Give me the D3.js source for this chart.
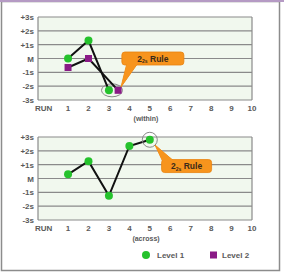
<!DOCTYPE html>
<html>
<head>
<meta charset="utf-8">
<script src="https://cdn.jsdelivr.net/npm/d3@7"></script>
<style>
  body { margin: 0; background: #fff; }
  text { font-family: "Liberation Sans", Arial, sans-serif; font-weight: bold; fill: #5a5a5a; }
</style>
</head>
<body>
<svg width="284" height="274"></svg>
<script>
// values (sd units)
var sdTicks = [3, 2, 1, 0, -1, -2, -3];
var sdLabels = ['+3s', '+2s', '+1s', 'M', '-1s', '-2s', '-3s'];
var runTicks = [0, 1, 2, 3, 4, 5, 6, 7, 8, 9, 10];
var runLabels = ['RUN', '1', '2', '3', '4', '5', '6', '7', '8', '9', '10'];

var withinLevel1 = [{run: 1, sd: 0}, {run: 2, sd: 1.3}, {run: 3, sd: -2.3}];
var withinLevel2 = [{run: 1, sd: -0.65}, {run: 2, sd: 0}, {run: 3.45, sd: -2.3}];
var acrossLevel1 = [{run: 1, sd: 0.3}, {run: 2, sd: 1.25}, {run: 3, sd: -1.25}, {run: 4, sd: 2.35}, {run: 5, sd: 2.8}];

var titles = ['(within)', '(across)'];
var legendNames = ['Level 1', 'Level 2'];

var green = '#25c22c';
var purple = '#8a1a86';
var orange = '#f7941d';

var svg = d3.select('svg');

// outer frame
svg.append('rect')
    .attr('x', 1.5).attr('y', 1.5)
    .attr('width', 278).attr('height', 269)
    .attr('fill', 'none')
    .attr('stroke', '#8c8c8c')
    .attr('stroke-width', 1.5);
svg.append('line')
    .attr('x1', 0).attr('x2', 284)
    .attr('y1', 1).attr('y2', 1)
    .attr('stroke', '#b59ac4')
    .attr('stroke-width', 2);

var xScale = d3.scaleLinear().domain([-0.47, 10]).range([38, 252]);

function makePanel(top, title) {
    var yScale = d3.scaleLinear().domain([-3, 3]).range([top + 83, top]);
    var g = svg.append('g');

    g.append('rect')
        .attr('x', xScale.range()[0]).attr('y', top)
        .attr('width', xScale.range()[1] - xScale.range()[0])
        .attr('height', 83)
        .attr('fill', '#f1f8ee');

    g.selectAll('line.grid')
      .data(sdTicks)
      .enter()
      .append('line')
        .attr('x1', xScale.range()[0]).attr('x2', xScale.range()[1])
        .attr('y1', d => yScale(d)).attr('y2', d => yScale(d))
        .attr('stroke', '#8a8a8a')
        .attr('stroke-width', 1.2);

    g.append('line')
        .attr('x1', xScale.range()[0]).attr('x2', xScale.range()[0])
        .attr('y1', top).attr('y2', top + 83)
        .attr('stroke', '#8a8a8a').attr('stroke-width', 1.2);
    g.append('line')
        .attr('x1', xScale.range()[1]).attr('x2', xScale.range()[1])
        .attr('y1', top).attr('y2', top + 83)
        .attr('stroke', '#8a8a8a').attr('stroke-width', 1.2);

    g.selectAll('text.ylab')
      .data(sdTicks)
      .enter()
      .append('text')
        .attr('x', 34)
        .attr('y', d => yScale(d) + 3)
        .attr('text-anchor', 'end')
        .attr('font-size', '8px')
        .text((d, i) => sdLabels[i]);

    g.selectAll('text.xlab')
      .data(runTicks)
      .enter()
      .append('text')
        .attr('x', d => d === 0 ? xScale(d) - 4 : xScale(d))
        .attr('y', top + 94)
        .attr('text-anchor', 'middle')
        .attr('font-size', '8px')
        .text((d, i) => runLabels[i]);

    g.append('text')
        .attr('x', 146)
        .attr('y', top + 104)
        .attr('text-anchor', 'middle')
        .attr('font-size', '7px')
        .attr('font-weight', 'normal')
        .text(title);

    return {g: g, yScale: yScale};
}

function drawSeries(panel, values, color, shape) {
    var line = d3.line()
        .x(d => xScale(d.run))
        .y(d => panel.yScale(d.sd));
    panel.g.append('path')
        .datum(values)
        .attr('d', line)
        .attr('fill', 'none')
        .attr('stroke', '#111')
        .attr('stroke-width', 2);
    if (shape === 'circle') {
        panel.g.selectAll(null)
          .data(values)
          .enter()
          .append('circle')
            .attr('cx', d => xScale(d.run))
            .attr('cy', d => panel.yScale(d.sd))
            .attr('r', 4)
            .attr('fill', color);
    } else {
        panel.g.selectAll(null)
          .data(values)
          .enter()
          .append('rect')
            .attr('x', d => xScale(d.run) - 3.5)
            .attr('y', d => panel.yScale(d.sd) - 3.5)
            .attr('width', 7).attr('height', 7)
            .attr('fill', color);
    }
}

function callout(panel, cx, cy, w, tail) {
    var bx = xScale(cx) - w / 2;
    var by = panel.yScale(cy) - 6.5;
    panel.g.append('path')
        .attr('d', 'M' + tail[0] + ',' + tail[1] + 'L' + tail[2] + ',' + tail[3] + 'L' + tail[4] + ',' + tail[5] + 'Z')
        .attr('fill', orange)
        .attr('stroke', '#e9820e')
        .attr('stroke-width', 0.8);
    panel.g.append('rect')
        .attr('x', bx).attr('y', by)
        .attr('width', w).attr('height', 13)
        .attr('rx', 3)
        .attr('fill', orange)
        .attr('stroke', '#e9820e')
        .attr('stroke-width', 0.8);
    // redraw tail base over border
    panel.g.append('path')
        .attr('d', 'M' + tail[0] + ',' + tail[1] + 'L' + tail[2] + ',' + tail[3] + 'L' + tail[4] + ',' + tail[5] + 'Z')
        .attr('fill', orange);
    var t = panel.g.append('text')
        .attr('x', xScale(cx))
        .attr('y', panel.yScale(cy) + 3)
        .attr('text-anchor', 'middle')
        .attr('font-size', '8.5px')
        .style('fill', '#3a2a1a');
    t.append('tspan').text('2');
    t.append('tspan').attr('font-size', '5px').attr('dy', 1.5).text('2s');
    t.append('tspan').attr('dy', -1.5).text(' Rule');
}

// top panel
var p1 = makePanel(17, titles[0]);
p1.g.append('ellipse')
    .attr('cx', xScale(3.15)).attr('cy', p1.yScale(-2.3))
    .attr('rx', 10.5).attr('ry', 6.5)
    .attr('fill', 'none')
    .attr('stroke', '#888')
    .attr('stroke-width', 1);
drawSeries(p1, withinLevel1, green, 'circle');
drawSeries(p1, withinLevel2, purple, 'square');
callout(p1, 5.15, 0, 62, [127, 63, 121, 87, 138, 63]);

// bottom panel
var p2 = makePanel(137, titles[1]);
drawSeries(p2, acrossLevel1, green, 'circle');
p2.g.append('circle')
    .attr('cx', xScale(5)).attr('cy', p2.yScale(2.8))
    .attr('r', 7.5)
    .attr('fill', 'none')
    .attr('stroke', '#888')
    .attr('stroke-width', 1);
callout(p2, 6.8, 0.9, 50, [163, 162, 155, 145, 175, 162]);

// legend
var legend = svg.append('g');
legend.append('circle')
    .attr('cx', 146).attr('cy', 255).attr('r', 4)
    .attr('fill', green);
legend.append('text')
    .attr('x', 157).attr('y', 258)
    .attr('font-size', '8px')
    .attr('font-weight', 'normal')
    .text(legendNames[0]);
legend.append('rect')
    .attr('x', 210).attr('y', 251.5)
    .attr('width', 7).attr('height', 7)
    .attr('fill', purple);
legend.append('text')
    .attr('x', 222).attr('y', 258)
    .attr('font-size', '8px')
    .attr('font-weight', 'normal')
    .text(legendNames[1]);
</script>
</body>
</html>
